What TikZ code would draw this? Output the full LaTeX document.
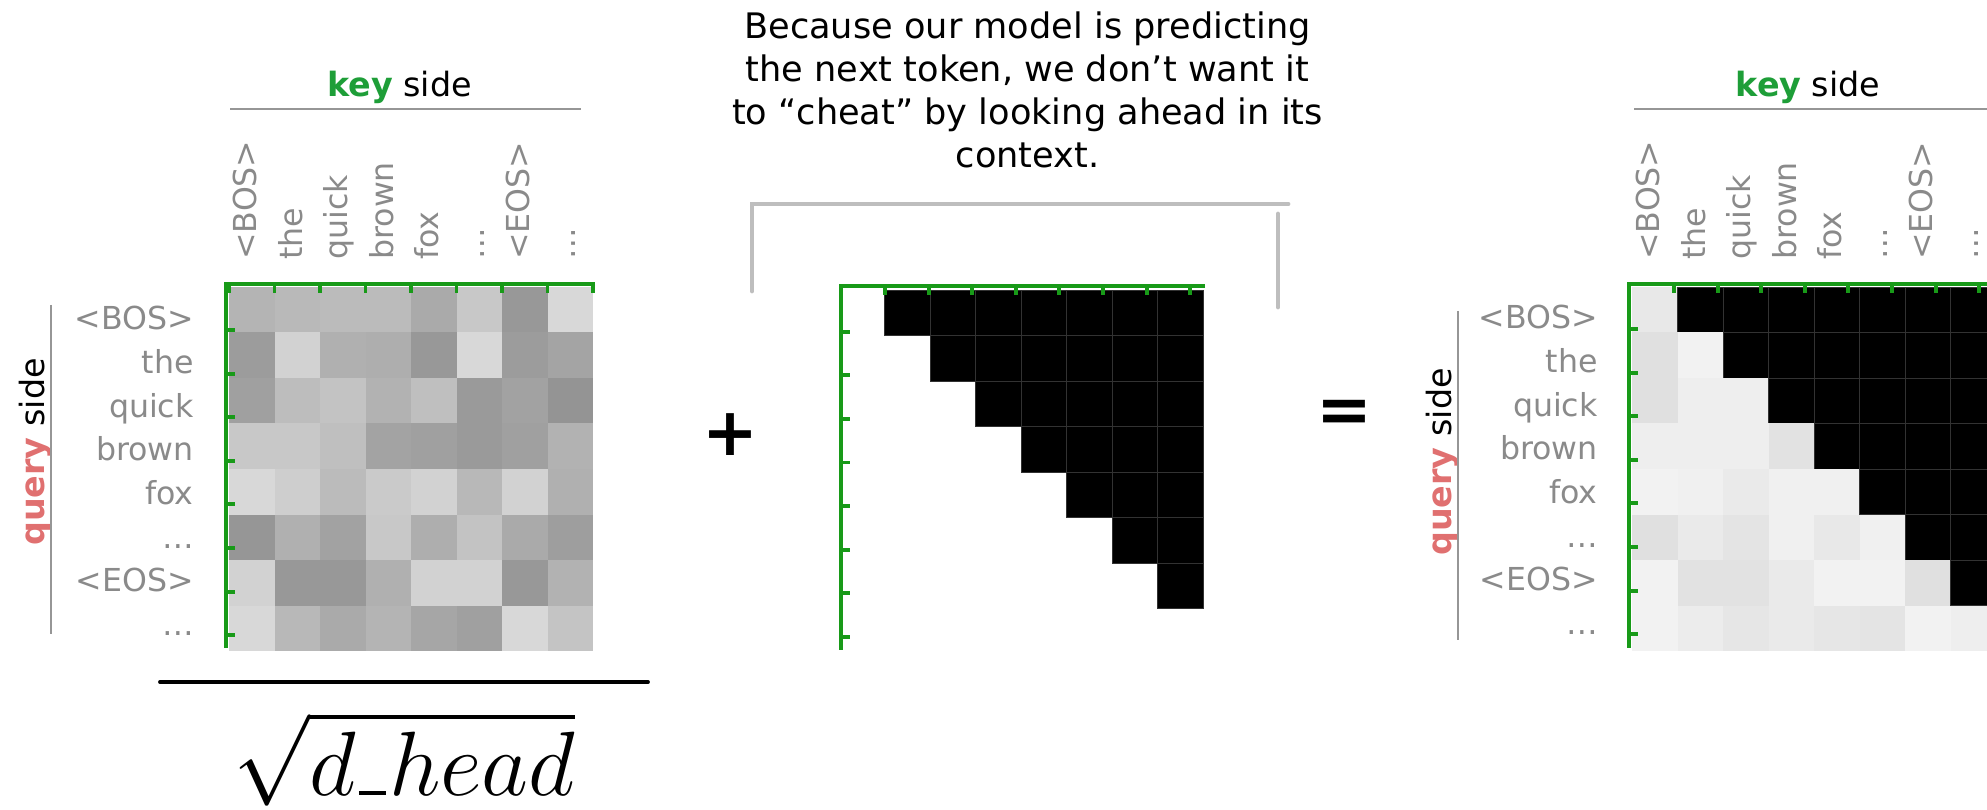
\documentclass[tikz,border=0pt]{standalone}
\usepackage{fix-cm}
\usepackage{fontspec}
\setmainfont{DejaVu Sans}

\definecolor{axisgreen}{RGB}{24,154,24}
\definecolor{keygreen}{RGB}{30,158,56}
\definecolor{queryred}{RGB}{224,112,112}
\definecolor{labelgray}{RGB}{138,138,138}
\definecolor{rulegray}{RGB}{150,150,150}
\definecolor{bracketgray}{RGB}{190,190,190}
\definecolor{gridgray}{RGB}{50,50,50}

% underscore sitting on the baseline, as in the printed formula
\newcommand\mathus{\kern.03em\vbox{\hrule width.3em height.045em}\kern.03em}

\begin{document}
\begin{tikzpicture}[
  x=0.02cm, y=-0.02cm,
  every node/.style={inner sep=0pt},
  % green axes of the three matrices and their ticks
  axis/.style={draw=axisgreen, line width=2pt},
  tick/.style={draw=axisgreen, line width=2.2pt},
  % token labels
  rowlabel/.style={anchor=base east, text=labelgray, font=\fontsize{18}{20}\selectfont},
  collabel/.style={anchor=mid west, rotate=90, text=labelgray, font=\fontsize{18}{20}\selectfont},
  sidelabel/.style={font=\fontsize{19}{22}\selectfont},
  sideline/.style={draw=rulegray, line width=0.7pt},
  maskcell/.style={fill=black, draw=gridgray, line width=0.4pt},
  opsign/.style={font=\fontsize{38}{40}\selectfont\bfseries},
  bracket/.style={draw=bracketgray, line width=2.8pt, line cap=round}]

  \useasboundingbox (0,0) rectangle (1987,810);

  % caption and bracket over the mask
  \node[anchor=north, align=center, font=\fontsize{20}{24.5}\selectfont] (note) at (1027.5,11.5)
    {Because our model is predicting\\the next token, we don’t want it\\to “cheat” by looking ahead in its\\context.};
  \draw[bracket] (752,291) -- (752,204) -- (1288,204);
  \draw[bracket] (1278,214) -- (1278,307);

  % ---------- left: scores / sqrt(d_head)
  \foreach \row [count=\i from 0] in {
      {180,185,187,187,170,200,152,216},
      {156,210,176,174,152,216,156,164},
      {160,189,195,178,191,154,162,148},
      {200,200,191,163,160,154,160,178},
      {216,206,187,202,210,184,210,176},
      {150,176,162,200,174,195,170,158},
      {210,152,152,176,210,210,152,178},
      {216,184,170,180,166,160,216,196}}
    \foreach \v [count=\j from 0] in \row
      \fill[fill={rgb,255:red,\v;green,\v;blue,\v}] (229+\j*45.5,287+\i*45.5) rectangle ++(45.5,45.5);
  \draw[axis] (595,284) -- (226,284) -- (226,648);
  \foreach \k in {0,...,8}
    \draw[tick] (229+\k*45.5,284) -- ++(0,9);
  \foreach \k in {0,...,7}
    \draw[tick] (226,330+\k*43.6) -- ++(9,0);

  \foreach \lab [count=\k from 0] in {<BOS>,the,quick,brown,fox,…,<EOS>,…} {
    \node[rowlabel] (rowL\k) at (194,330+\k*43.6) {\lab};
    \node[collabel] (colL\k) at (229+\k*45.5+22.75,260) {\lab};
  }
  \node[sidelabel, anchor=base] (keyL) at (399.5,97) {\textcolor{keygreen}{\bfseries key} side};
  \draw[sideline] (230,109) -- (581,109);
  \node[sidelabel, rotate=90] (queryL) at (35,452) {\textcolor{queryred}{\bfseries query} side};
  \draw[sideline] (51,305) -- (51,634);

  \draw[line width=2.2pt, line cap=round] (160,682) -- (648,682);
  \node[anchor=base, font=\fontsize{52}{57}\selectfont] (scale) at (404.5,795) {$\sqrt{d\mathus head}$};

  \node[opsign] (plus) at (730.5,435) {+};

  % ---------- middle: the mask
  \foreach \i in {0,...,6} {
    \pgfmathtruncatemacro\s{\i+1}
    \foreach \j in {\s,...,7}
      \filldraw[maskcell] (839+\j*45.5,290+\i*45.5) rectangle ++(45.5,45.5);
  }
  \draw[axis] (1205,286) -- (841,286) -- (841,650);
  \foreach \k in {0,...,7} {
    \draw[tick] (885+\k*43.6,286) -- ++(0,9);
    \draw[tick] (841,331.7+\k*43.6) -- ++(9,0);
  }

  \node[opsign] (equals) at (1344,416) {=};

  % ---------- right: masked scores
  \foreach \row [count=\i from 0] in {
      {232,0,0,0,0,0,0,0},
      {224,242,0,0,0,0,0,0},
      {224,238,238,0,0,0,0,0},
      {238,238,238,226,0,0,0,0},
      {242,240,234,240,240,0,0,0},
      {224,234,228,240,232,240,0,0},
      {242,226,226,234,242,242,224,0},
      {242,236,230,234,230,228,242,238}}
    \foreach \v [count=\j from 0] in \row {
      \ifnum\v=0
        \filldraw[maskcell] (1632+\j*45.5,287+\i*45.5) rectangle ++(45.5,45.5);
      \else
        \fill[fill={rgb,255:red,\v;green,\v;blue,\v}] (1632+\j*45.5,287+\i*45.5) rectangle ++(45.5,45.5);
      \fi
    }
  \draw[axis] (1995,284) -- (1629,284) -- (1629,648);
  \foreach \k in {0,...,7} {
    \draw[tick] (1674+\k*43.6,284) -- ++(0,9);
    \draw[tick] (1629,329+\k*43.6) -- ++(9,0);
  }

  \foreach \lab [count=\k from 0] in {<BOS>,the,quick,brown,fox,…,<EOS>,…} {
    \node[rowlabel] (rowR\k) at (1598,329+\k*43.6) {\lab};
    \node[collabel] (colR\k) at (1632+\k*45.5+22.75,260) {\lab};
  }
  \node[sidelabel, anchor=base] (keyR) at (1808,97) {\textcolor{keygreen}{\bfseries key} side};
  \draw[sideline] (1634,109) -- (1995,109);
  \node[sidelabel, rotate=90] (queryR) at (1442,462) {\textcolor{queryred}{\bfseries query} side};
  \draw[sideline] (1458,311) -- (1458,640);
\end{tikzpicture}
\end{document}
